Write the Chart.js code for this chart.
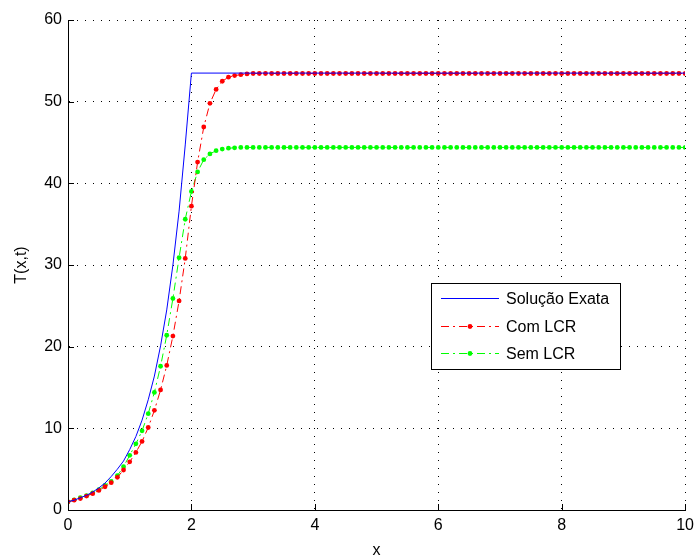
<!DOCTYPE html>
<html>
<meta charset="UTF-8">
<title>T(x,t)</title>
<style type="text/css">
	html, body { margin: 0px; width: 700px; height: 560px; background: #fff; }
	.container { width: 700px; height: 560px; }
</style>
<script src="https://cdn.jsdelivr.net/npm/chart.js"></script>
<body>
<div class="container"><canvas id="myCanvas" width="700" height="560"></canvas></div>
<script>
	// x positions of the computed points
	var xs = [
		0.0, 0.1, 0.2, 0.3, 0.4, 0.5, 0.6, 0.7, 0.8, 0.9,
		1.0, 1.1, 1.2, 1.3, 1.4, 1.5, 1.6, 1.7, 1.8, 1.9,
		2.0, 2.1, 2.2, 2.3, 2.4, 2.5, 2.6, 2.7, 2.8, 2.9,
		3.0, 3.1, 3.2, 3.3, 3.4, 3.5, 3.6, 3.7, 3.8, 3.9,
		4.0, 4.1, 4.2, 4.3, 4.4, 4.5, 4.6, 4.7, 4.8, 4.9,
		5.0, 5.1, 5.2, 5.3, 5.4, 5.5, 5.6, 5.7, 5.8, 5.9,
		6.0, 6.1, 6.2, 6.3, 6.4, 6.5, 6.6, 6.7, 6.8, 6.9,
		7.0, 7.1, 7.2, 7.3, 7.4, 7.5, 7.6, 7.7, 7.8, 7.9,
		8.0, 8.1, 8.2, 8.3, 8.4, 8.5, 8.6, 8.7, 8.8, 8.9,
		9.0, 9.1, 9.2, 9.3, 9.4, 9.5, 9.6, 9.7, 9.8, 9.9,
		10.0
	];

	// exact solution
	var exactX = [0.0, 0.1, 0.2, 0.3, 0.4, 0.5, 0.6, 0.7, 0.8, 0.9, 1.0,
		1.1, 1.2, 1.3, 1.4, 1.5, 1.6, 1.7, 1.8, 1.9, 2.0, 10.0];
	var exactT = [1.0, 1.2, 1.5, 1.8, 2.2, 2.7, 3.3, 4.1, 5.0, 6.0, 7.4,
		9.0, 11.0, 13.5, 16.4, 20.1, 24.5, 30.0, 36.6, 44.7, 53.5, 53.5];

	var comLCR = [
		1.0, 1.2, 1.4, 1.7, 2.0, 2.4, 2.85, 3.35, 4.0, 4.9,
		5.9, 7.05, 8.4, 10.1, 12.2, 14.7, 17.7, 21.3, 25.6, 30.8,
		37.2, 42.6, 46.9, 49.8, 51.5, 52.5, 53.0, 53.2, 53.3, 53.4,
		53.45, 53.45, 53.45, 53.45, 53.45, 53.45, 53.45, 53.45, 53.45, 53.45,
		53.45, 53.45, 53.45, 53.45, 53.45, 53.45, 53.45, 53.45, 53.45, 53.45,
		53.45, 53.45, 53.45, 53.45, 53.45, 53.45, 53.45, 53.45, 53.45, 53.45,
		53.45, 53.45, 53.45, 53.45, 53.45, 53.45, 53.45, 53.45, 53.45, 53.45,
		53.45, 53.45, 53.45, 53.45, 53.45, 53.45, 53.45, 53.45, 53.45, 53.45,
		53.45, 53.45, 53.45, 53.45, 53.45, 53.45, 53.45, 53.45, 53.45, 53.45,
		53.45, 53.45, 53.45, 53.45, 53.45, 53.45, 53.45, 53.45, 53.45, 53.45,
		53.45
	];

	var semLCR = [
		1.0, 1.25, 1.5, 1.75, 2.1, 2.5, 3.0, 3.5, 4.2, 5.3,
		6.7, 8.1, 9.7, 11.8, 14.4, 17.6, 21.4, 25.9, 30.9, 35.6,
		39.0, 41.4, 42.9, 43.6, 44.0, 44.2, 44.3, 44.35, 44.4, 44.4,
		44.4, 44.4, 44.4, 44.4, 44.4, 44.4, 44.4, 44.4, 44.4, 44.4,
		44.4, 44.4, 44.4, 44.4, 44.4, 44.4, 44.4, 44.4, 44.4, 44.4,
		44.4, 44.4, 44.4, 44.4, 44.4, 44.4, 44.4, 44.4, 44.4, 44.4,
		44.4, 44.4, 44.4, 44.4, 44.4, 44.4, 44.4, 44.4, 44.4, 44.4,
		44.4, 44.4, 44.4, 44.4, 44.4, 44.4, 44.4, 44.4, 44.4, 44.4,
		44.4, 44.4, 44.4, 44.4, 44.4, 44.4, 44.4, 44.4, 44.4, 44.4,
		44.4, 44.4, 44.4, 44.4, 44.4, 44.4, 44.4, 44.4, 44.4, 44.4,
		44.4
	];

	var seriesNames = ['Solução Exata', 'Com LCR', 'Sem LCR'];
	var seriesColors = ['#0000ff', '#ff0000', '#00ff00'];
	var xTitle = 'x';
	var yTitle = 'T(x,t)';

	var FONT = 'Liberation Sans, Arial, sans-serif';

	function pairs(xv, yv) {
		var out = [];
		for (var i = 0; i < xv.length; i++) {
			out.push({ x: xv[i], y: yv[i] });
		}
		return out;
	}

	var dashDot = [8, 4, 2, 4];

	var exactData = {
		label: seriesNames[0],
		data: pairs(exactX, exactT),
		borderColor: seriesColors[0],
		borderWidth: 1,
		pointRadius: 0,
		tension: 0,
		order: 1
	};

	var comData = {
		label: seriesNames[1],
		data: pairs(xs, comLCR),
		borderColor: seriesColors[1],
		backgroundColor: seriesColors[1],
		borderWidth: 1,
		borderDash: dashDot,
		pointRadius: 2.4,
		pointBorderWidth: 0,
		pointBackgroundColor: seriesColors[1],
		tension: 0,
		order: 2
	};

	var semData = {
		label: seriesNames[2],
		data: pairs(xs, semLCR),
		borderColor: seriesColors[2],
		backgroundColor: seriesColors[2],
		borderWidth: 1,
		borderDash: dashDot,
		pointRadius: 2.4,
		pointBorderWidth: 0,
		pointBackgroundColor: seriesColors[2],
		tension: 0,
		order: 3
	};

	// inward tick marks + boxed legend inside plot area
	var matlabBits = {
		id: 'matlabBits',
		afterDatasetsDraw: function (chart) {
			var ctx = chart.ctx;
			var area = chart.chartArea;
			var xs_ = chart.scales.x, ys_ = chart.scales.y;
			ctx.save();
			ctx.strokeStyle = '#000';
			ctx.lineWidth = 1;
			ctx.setLineDash([]);
			ctx.beginPath();
			// solid axis lines, left and bottom
			ctx.moveTo(Math.round(area.left) + 0.5, area.top);
			ctx.lineTo(Math.round(area.left) + 0.5, Math.round(area.bottom) + 0.5);
			ctx.lineTo(area.right, Math.round(area.bottom) + 0.5);
			xs_.ticks.forEach(function (t) {
				var px = Math.round(xs_.getPixelForValue(t.value)) + 0.5;
				ctx.moveTo(px, area.bottom);
				ctx.lineTo(px, area.bottom - 6);
			});
			ys_.ticks.forEach(function (t) {
				var py = Math.round(ys_.getPixelForValue(t.value)) + 0.5;
				ctx.moveTo(area.left, py);
				ctx.lineTo(area.left + 6, py);
			});
			ctx.stroke();

			// legend box
			var bx = 431.5, by = 283.5, bw = 189, bh = 86;
			ctx.fillStyle = '#fff';
			ctx.fillRect(bx, by, bw, bh);
			ctx.strokeRect(bx, by, bw, bh);
			ctx.font = '16px ' + FONT;
			ctx.textBaseline = 'middle';
			var rows = [298, 326, 353];
			for (var i = 0; i < 3; i++) {
				var ry = rows[i] + 0.5;
				ctx.strokeStyle = seriesColors[i];
				ctx.lineWidth = 1;
				ctx.setLineDash(i === 0 ? [] : dashDot);
				ctx.beginPath();
				ctx.moveTo(441, ry);
				ctx.lineTo(499, ry);
				ctx.stroke();
				if (i > 0) {
					ctx.fillStyle = seriesColors[i];
					ctx.beginPath();
					ctx.arc(470, ry, 2.4, 0, Math.PI * 2);
					ctx.fill();
				}
				ctx.fillStyle = '#000';
				ctx.fillText(seriesNames[i], 506, ry + 1);
			}
			ctx.restore();
		}
	};

	var config = {
		type: 'line',
		data: { datasets: [exactData, comData, semData] },
		plugins: [matlabBits],
		options: {
			responsive: false,
			animation: false,
			devicePixelRatio: 1,
			layout: { padding: { left: 0, right: 12, top: 20, bottom: 0 } },
			plugins: {
				legend: { display: false },
				tooltip: { enabled: false }
			},
			scales: {
				x: {
					type: 'linear',
					min: 0,
					max: 10,
					ticks: {
						stepSize: 2,
						color: '#000',
						font: { family: FONT, size: 16 },
						padding: 6
					},
					grid: {
						color: '#000',
						lineWidth: 1,
						drawTicks: false
					},
					border: { display: true, color: '#000', width: 1, dash: [1, 7] },
					title: {
						display: true,
						text: xTitle,
						color: '#000',
						font: { family: FONT, size: 16 },
						padding: { top: 2, bottom: 0 }
					},
					afterFit: function (s) { s.height = 50; }
				},
				y: {
					min: 0,
					max: 60,
					ticks: {
						stepSize: 10,
						color: '#000',
						font: { family: FONT, size: 16 },
						padding: 6
					},
					grid: {
						color: '#000',
						lineWidth: 1,
						drawTicks: false
					},
					border: { display: true, color: '#000', width: 1, dash: [1, 7] },
					title: {
						display: true,
						text: yTitle,
						color: '#000',
						font: { family: FONT, size: 16 },
						padding: { top: 12, bottom: 4 }
					},
					afterFit: function (s) { s.width = 68; }
				}
			}
		}
	};

	var myChart = new Chart(document.getElementById('myCanvas'), config);
</script>
</body>
</html>
